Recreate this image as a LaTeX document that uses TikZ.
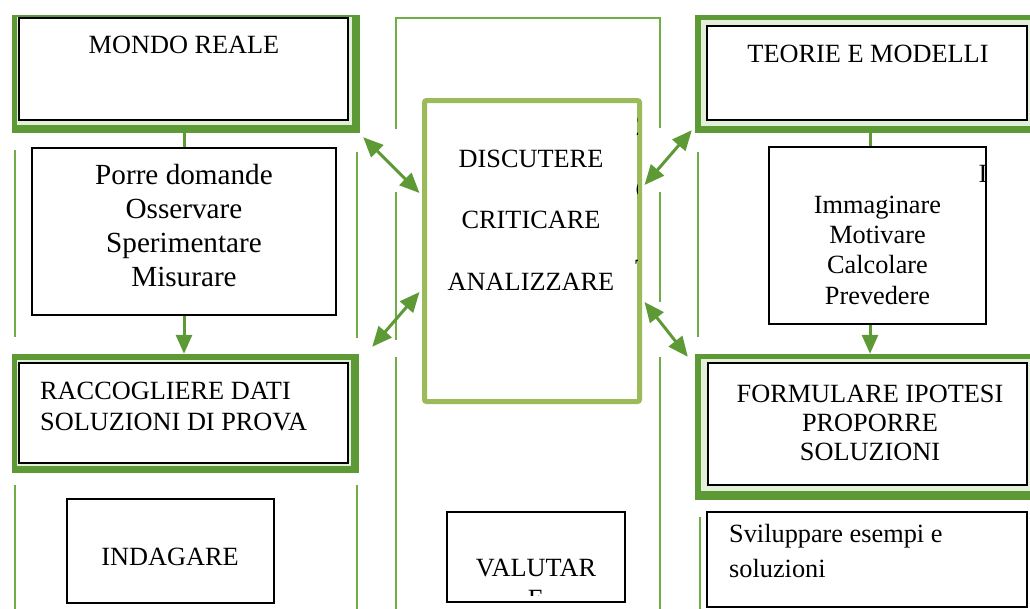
\documentclass[tikz,border=0pt]{standalone}
\usepackage{fontspec}
\setmainfont{Liberation Serif}
\usetikzlibrary{arrows.meta,calc,fit}

\definecolor{framegreen}{HTML}{5D9934}
\definecolor{linegreen}{HTML}{70AD47}
\definecolor{palegreen}{HTML}{E2EFD9}
\definecolor{softgreen}{HTML}{9BBB59}

\tikzset{
  outer/.style={fill=framegreen, inner sep=0pt},
  band/.style={fill=palegreen, inner sep=0pt},
  inbox/.style={draw=black, line width=1.2pt, fill=white, inner sep=0pt},
  vline/.style={linegreen, line width=2pt},
  txt/.style={font=\fontsize{26.3}{30.3}\selectfont, inner sep=0pt},
  bigtxt/.style={font=\fontsize{29.2}{33.7}\selectfont, inner sep=0pt},
  link/.style={framegreen, line width=3pt},
  onearrow/.style={link, -{Triangle[length=19pt,width=16pt]}},
  twoarrow/.style={link, {Triangle[length=20pt,width=17pt]}-{Triangle[length=20pt,width=17pt]}},
}

\begin{document}
\begin{tikzpicture}[x=1pt,y=-1pt]
\useasboundingbox (0,0) rectangle (1030,608);
\clip (0,0) rectangle (1030,608);

% thin frame lines of the three columns
\draw[vline] (15,150) -- (15,337);
\draw[vline] (15,485) -- (15,615);
\draw[vline] (357,152) -- (357,338);
\draw[vline] (357,485) -- (357,615);
\draw[vline] (396,129) -- (396,18) -- (660,18) -- (660,128);
\draw[vline] (396,192) -- (396,340);
\draw[vline] (396,357) -- (396,615);
\draw[vline] (660,192) -- (660,302);
\draw[vline] (660,357) -- (660,615);
\draw[vline] (698,152) -- (698,337);
\draw[vline] (700,517) -- (700,615);

% left column
\node[outer, fit={(12,15) (360,133)}] (mondoF) {};
\node[band, fit={(17,17) (352,125)}] {};
\node[inbox, line width=2pt, fit={(19,18) (348,120)}] (mondo) {};
\node[txt, anchor=base] (mondoT) at (184,53) {MONDO REALE};

\node[inbox, fit={(32,148) (336,315)}] (porre) {};
\node[bigtxt, align=center, anchor=base] (porreT) at (184,286)
  {Porre domande\\Osservare\\Sperimentare\\Misurare};

\node[outer, fit={(12,354) (359,473)}] (raccF) {};
\node[band, fit={(17,360) (351,466)}] {};
\node[inbox, line width=2pt, fit={(19,363) (348,463)}] (racc) {};
\node[txt, align=left, anchor=base west, font=\fontsize{26.3}{31}\selectfont] (raccT) at (40,430)
  {RACCOGLIERE DATI\\SOLUZIONI DI PROVA};

\node[inbox, fit={(67,499) (274,603)}] (indag) {};
\node[txt, anchor=base] (indagT) at (170,565) {INDAGARE};

% centre column
\node[draw=softgreen, line width=5pt, rounded corners=2pt, fill=white, inner sep=0pt,
  fit={(424.5,100.5) (639.5,401.5)}] (disc) {};
\node[txt, align=center, anchor=base, font=\fontsize{26.3}{61.5}\selectfont] (discT) at (531,290)
  {DISCUTERE\\CRITICARE\\ANALIZZARE};
\begin{scope}
\clip (600,103) rectangle (637,399);
\node[txt, anchor=base west] (cut1) at (635.5,135) {Z};
\node[txt, anchor=base west] (cut2) at (635.5,198) {C};
\node[txt, anchor=base west] (cut3) at (635,277) {T};
\end{scope}

\node[inbox, fit={(447,512) (625,602)}] (valut) {};
\begin{scope}
\clip (448,513) rectangle (624,595);
\node[txt, align=center, anchor=base] (valutT) at (536,607) {VALUTAR\\E};
\end{scope}

% right column
\node[outer, fit={(695,15) (1045,133)}] (teorieF) {};
\node[band, fit={(701,20) (1036,126)}] {};
\node[inbox, fit={(707,26) (1027,120)}] (teorie) {};
\node[txt, anchor=base] (teorieT) at (868,62) {TEORIE E MODELLI};

\node[inbox, fit={(769,147) (986,324)}] (immag) {};
\node[txt, align=center, anchor=base] (immagT) at (877.5,304)
  {Immaginare\\Motivare\\Calcolare\\Prevedere};
\begin{scope}
\clip (900,150) rectangle (985.5,320);
\node[txt, anchor=base] (cut4) at (983,182) {I};
\end{scope}

\node[outer, fit={(695,354) (1045,500)}] (formF) {};
\node[band, fit={(701,359) (1036,491)}] {};
\node[inbox, fit={(708,363) (1027,485)}] (form) {};
\node[txt, align=center, anchor=base, font=\fontsize{26.3}{29}\selectfont] (formT) at (870,460)
  {FORMULARE IPOTESI\\PROPORRE\\SOLUZIONI};

\node[inbox, fit={(707,512) (1027,607)}] (svil) {};
\node[txt, align=left, anchor=base west, font=\fontsize{26.3}{35}\selectfont] (svilT) at (729,577)
  {Sviluppare esempi e\\soluzioni};

% connectors
\draw[link] (porre.north |- mondoF.south) -- (porre.north);
\draw[onearrow] (porre.south) -- (porre.south |- raccF.north);
\draw[link] (teorieF.south) -- (teorieF.south |- immag.north);
\draw[onearrow] (formF.north |- immag.south) -- (formF.north);

\draw[twoarrow] ($(mondoF.south east)+(3,4)$) -- ($(disc.west)+(-2.5,-58)$);
\draw[twoarrow] ($(disc.west)+(-2.5,41)$) -- ($(raccF.north east)+(13,-7)$);
\draw[twoarrow] ($(disc.east)+(2.5,-66)$) -- ($(teorieF.south west)+(-3,-3)$);
\draw[twoarrow] ($(disc.east)+(2.5,51)$) -- ($(formF.north west)+(-7,3)$);
\end{tikzpicture}
\end{document}
